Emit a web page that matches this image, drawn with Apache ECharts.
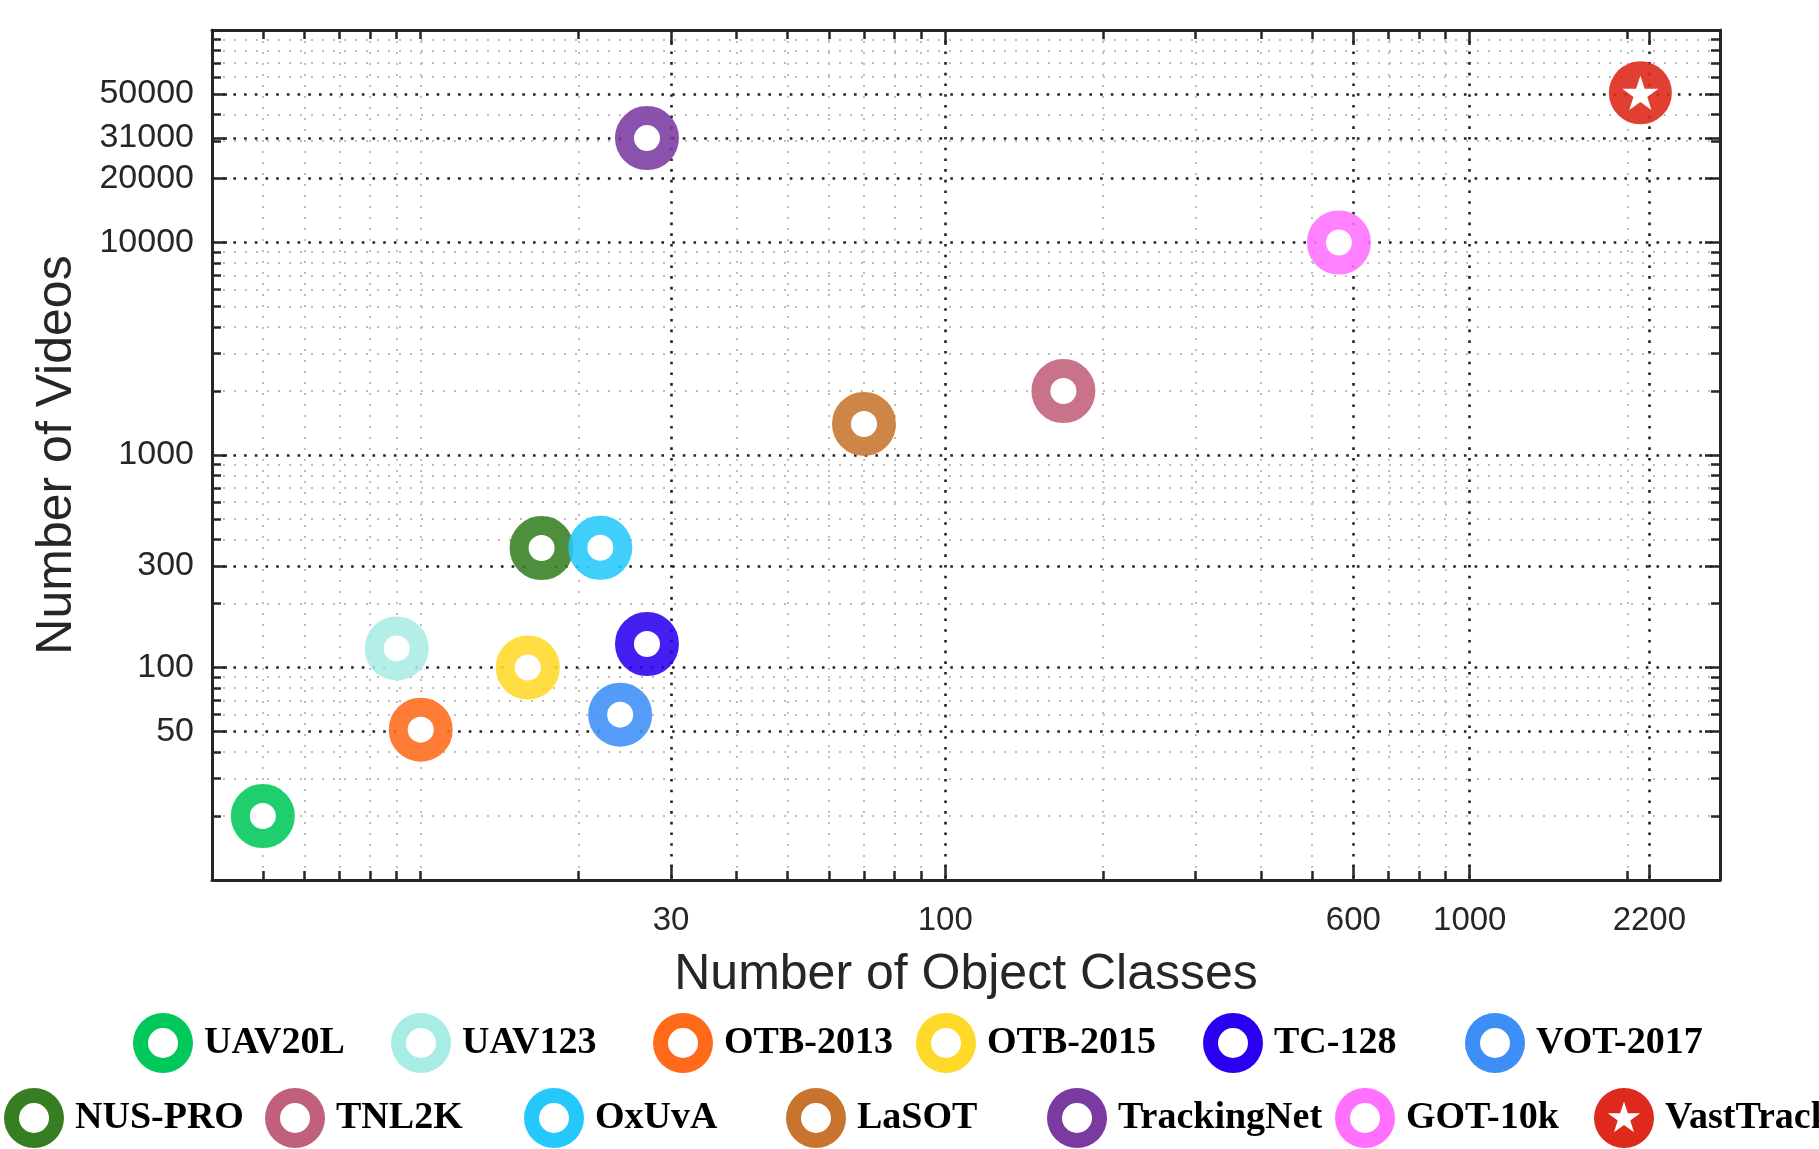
<!DOCTYPE html>
<html>
<head>
<meta charset="utf-8">
<title>Number of Videos vs Object Classes</title>
<script src="https://cdn.jsdelivr.net/npm/echarts@6/dist/echarts.min.js"></script>
<style>
  html, body { margin: 0; padding: 0; background: #fff; }
  #chart { width: 1819px; height: 1149px; }
</style>
</head>
<body>
<div id="chart"></div>
<script>
// dataset
const names = ['UAV20L', 'UAV123', 'OTB-2013', 'OTB-2015', 'TC-128', 'VOT-2017',
  'NUS-PRO', 'TNL2K', 'OxUvA', 'LaSOT', 'TrackingNet', 'GOT-10k', 'VastTrack']
const classes = [5, 9, 10, 16, 27, 24, 17, 168, 22, 70, 27, 563, 2115]
const videos = [20, 123, 51, 100, 129, 60, 365, 2000, 366, 1400, 31000, 10000, 50610]
const colors = ['#00c85a', '#a8ece6', '#ff6a1a', '#ffd92a', '#2b00f0', '#3d8ef7',
  '#357f22', '#c0607a', '#25c8fa', '#c8742f', '#7a3aa0', '#ff70ff', '#de2a1c']

// tick labels / ticks
const xLabels = [30, 100, 600, 1000, 2200]
const xMinor = [5, 6, 7, 8, 9, 10, 20, 40, 50, 60, 70, 80, 90, 200, 300, 400, 500, 700, 800, 900, 2000]
const yLabels = [50, 100, 300, 1000, 10000, 20000, 31000, 50000]
const yMinor = [20, 30, 40, 60, 70, 80, 90, 200, 400, 500, 600, 700, 800, 900,
  2000, 3000, 4000, 5000, 6000, 7000, 8000, 9000, 30000, 40000, 60000, 70000, 80000, 90000]

// legend placement (icon centres, px)
const legendCenters = [
  [163, 1043], [421, 1043], [683, 1043], [946, 1043], [1233, 1043], [1495, 1043],
  [34, 1118], [295, 1118], [554, 1118], [816, 1118], [1077, 1118], [1365, 1118], [1624, 1118]
]

const AXIS_COLOR = '#262626'

function starPath(cx, cy, R, r, ccw) {
  let d = ''
  for (let i = 0; i < 10; i++) {
    const ang = (-90 + (ccw ? -1 : 1) * i * 36) * Math.PI / 180
    const rad = i % 2 ? r : R
    d += (i === 0 ? 'M' : 'L') + (cx + rad * Math.cos(ang)).toFixed(2) + ' ' + (cy + rad * Math.sin(ang)).toFixed(2)
  }
  return d + 'Z'
}

const circleOuter = 'M30 0A30 30 0 1 1 30 60A30 30 0 1 1 30 0Z'
const ringIcon = 'path://' + circleOuter + 'M30 15A15 15 0 1 0 30 45A15 15 0 1 0 30 15Z'
const starIcon = 'path://' + circleOuter + starPath(30, 30.5, 17, 6.6, true)
const starSymbol = 'path://' + starPath(30, 30, 30, 11.5, false)

function rgba(hex, a) {
  const n = parseInt(hex.slice(1), 16)
  return `rgba(${(n >> 16) & 255},${(n >> 8) & 255},${n & 255},${a})`
}

const xBase = { type: 'log', logBase: 10, min: 4, max: 3000, gridIndex: 0 }
const yBase = { type: 'log', logBase: 10, min: 10, max: 100000, gridIndex: 0 }

const majorGrid = { show: true, lineStyle: { color: '#222222', width: 2.6, type: [2.6, 8.1] } }
const minorGrid = { show: true, lineStyle: { color: '#bdbdbd', width: 2, type: [2, 9] } }

function tickAxis(base, position, values, len, withLine, grid, z) {
  return {
    ...base,
    position,
    z,
    axisLine: { show: withLine, onZero: false, lineStyle: { color: AXIS_COLOR, width: 3 } },
    axisTick: { show: true, inside: true, length: len, customValues: values,
      lineStyle: { color: AXIS_COLOR, width: 2.5 } },
    axisLabel: { show: false },
    splitLine: grid || { show: false }
  }
}

const labelFmt = v => String(Math.round(v))

const xAxis = [
  {
    ...tickAxis(xBase, 'bottom', xLabels, 15, true, majorGrid, 2),
    axisLabel: { show: true, customValues: xLabels, formatter: labelFmt, margin: 24,
      fontSize: 33, fontFamily: 'Liberation Sans', color: AXIS_COLOR },
    name: 'Number of Object Classes',
    nameLocation: 'middle',
    nameGap: 70,
    nameTextStyle: { fontSize: 50, fontFamily: 'Liberation Sans', color: AXIS_COLOR }
  },
  tickAxis(xBase, 'bottom', xMinor, 9, false, minorGrid, 1),
  tickAxis(xBase, 'top', xLabels, 15, true, null, 2),
  tickAxis(xBase, 'top', xMinor, 9, false, null, 2)
]

const yAxis = [
  {
    ...tickAxis(yBase, 'left', yLabels, 15, true, majorGrid, 2),
    axisLabel: { show: true, customValues: yLabels, formatter: labelFmt, margin: 18,
      fontSize: 34, fontFamily: 'Liberation Sans', color: AXIS_COLOR },
    name: 'Number of Videos',
    nameLocation: 'middle',
    nameGap: 130,
    nameTextStyle: { fontSize: 50, fontFamily: 'Liberation Sans', color: AXIS_COLOR }
  },
  tickAxis(yBase, 'left', yMinor, 9, false, minorGrid, 1),
  tickAxis(yBase, 'right', yLabels, 15, true, null, 2),
  tickAxis(yBase, 'right', yMinor, 9, false, null, 2)
]

const last = names.length - 1
const series = names.map((name, i) => {
  const isStar = i === last
  return {
    name,
    type: 'scatter',
    xAxisIndex: 0,
    yAxisIndex: 0,
    symbol: 'circle',
    symbolSize: isStar ? 63 : 45,
    itemStyle: isStar
      ? { color: rgba(colors[i], 0.9), opacity: 1 }
      : { color: '#ffffff', borderColor: rgba(colors[i], 0.88), borderWidth: 19, opacity: 1 },
    data: [[classes[i], videos[i]]],
    z: 3,
    silent: true
  }
})
// white star on VastTrack
series.push({
  name: names[last],
  type: 'scatter',
  xAxisIndex: 0,
  yAxisIndex: 0,
  symbol: starSymbol,
  symbolSize: 36,
  symbolKeepAspect: true,
  itemStyle: { color: '#ffffff', opacity: 1 },
  data: [[classes[last], videos[last]]],
  z: 4,
  silent: true
})

const legend = names.map((name, i) => ({
  left: legendCenters[i][0] - 30,
  top: legendCenters[i][1] - 30,
  padding: 0,
  itemWidth: 60,
  itemHeight: 60,
  selectedMode: false,
  data: [{
    name,
    icon: i === last ? starIcon : ringIcon,
    itemStyle: { color: colors[i], borderWidth: 0, borderColor: 'transparent', opacity: 1 }
  }],
  textStyle: { fontFamily: 'Liberation Serif', fontWeight: 'bold', fontSize: 38,
    color: '#000', padding: [0, 0, 0, 6] }
}))

const chart = echarts.init(document.getElementById('chart'), null, { renderer: 'canvas' })
chart.setOption({
  animation: false,
  backgroundColor: '#ffffff',
  grid: { left: 212, top: 30, width: 1508, height: 850 },
  xAxis,
  yAxis,
  legend,
  series
})
</script>
</body>
</html>
